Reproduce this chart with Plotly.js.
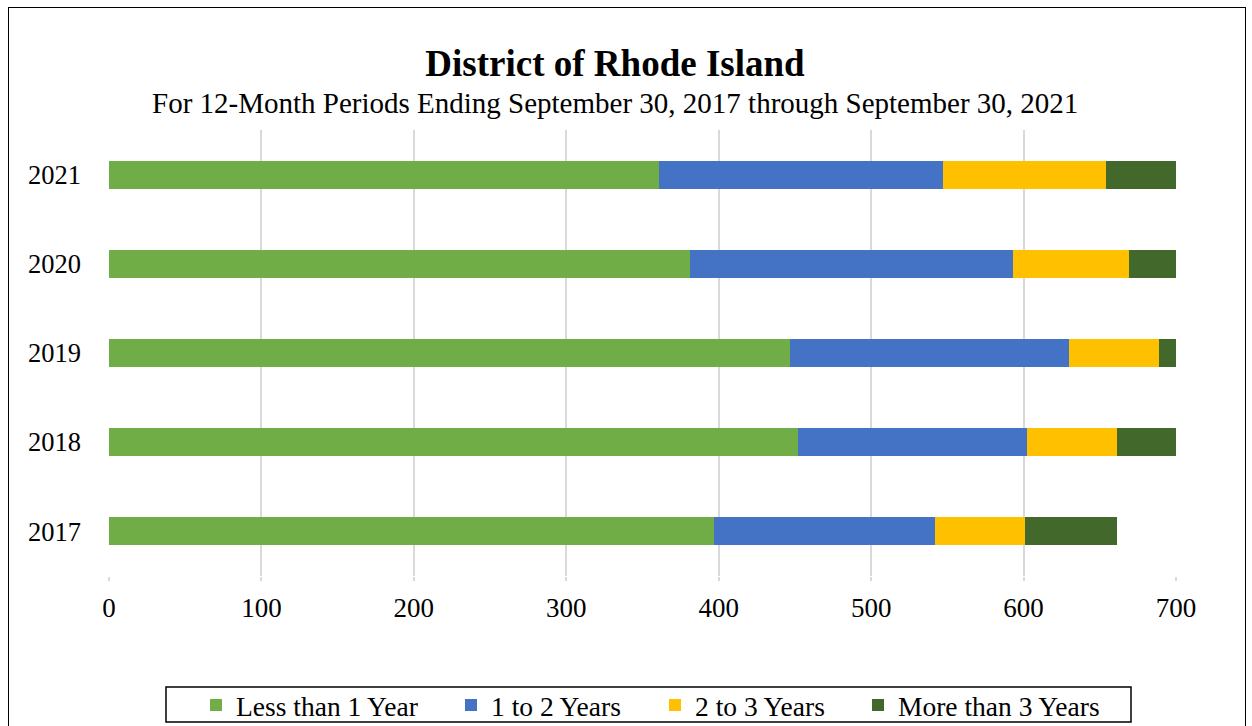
<!DOCTYPE html>
<html>
<head>
<meta charset="utf-8">
<script src="https://cdn.plot.ly/plotly-3.0.1.min.js"></script>
<style>
html,body{margin:0;padding:0;background:#fff;}
#chart{position:absolute;left:0;top:0;width:1252px;height:726px;}
#frame{position:absolute;left:8px;top:7px;width:1236px;height:740px;border:1px solid #000;pointer-events:none;}
</style>
</head>
<body>
<div id="chart"></div>
<div id="frame"></div>
<script>
const years = ['2017', '2018', '2019', '2020', '2021'];
const seriesNames = ['Less than 1 Year', '1 to 2 Years', '2 to 3 Years', 'More than 3 Years'];
const lessThan1 = [397, 452, 447, 381, 361];
const oneTo2 = [145, 150, 183, 212, 186];
const twoTo3 = [59, 59, 59, 76, 107];
const moreThan3 = [60, 40, 12, 32, 47];
const xTicks = [0, 100, 200, 300, 400, 500, 600, 700];

const colors = ['#70AD47', '#4472C4', '#FFC000', '#43682B'];
const values = [lessThan1, oneTo2, twoTo3, moreThan3];
const legendIds = ['legend', 'legend2', 'legend3', 'legend4'];
// pixel x of each legend swatch centre
const swatchX = [216, 471, 675, 878];

const L = 109, R = 76, T = 130, B = 150, W = 1252, H = 726;
const pw = W - L - R, ph = H - T - B;
const px = x => (x - L) / pw;
const py = y => (H - B - y) / ph;

const traces = values.map((v, i) => ({
  type: 'bar',
  orientation: 'h',
  name: seriesNames[i],
  legend: legendIds[i],
  y: years,
  x: v,
  marker: {color: colors[i], line: {width: 0}},
  hoverinfo: 'x+name'
}));

const font = 'Liberation Serif, Times New Roman, serif';
const layout = {
  width: W, height: H,
  barmode: 'stack',
  bargap: 0.685,
  paper_bgcolor: '#fff',
  plot_bgcolor: '#fff',
  margin: {l: L, r: R, t: T, b: B, autoexpand: false},
  font: {family: font, color: '#000', size: 24},
  xaxis: {
    range: [0, 700],
    tickvals: xTicks,
    ticktext: xTicks.map(String),
    showgrid: true, gridcolor: '#d9d9d9', gridwidth: 2,
    zeroline: false, showline: false,
    ticks: 'outside', ticklen: 4, tickcolor: '#d9d9d9', tickwidth: 2,
    ticklabelstandoff: 4,
    tickfont: {family: font, size: 27, color: '#000'},
    fixedrange: true
  },
  yaxis: {
    categoryorder: 'array', categoryarray: years,
    showgrid: false, zeroline: false, showline: false,
    ticks: '', ticklabelstandoff: 27,
    tickfont: {family: font, size: 26.5, color: '#000'},
    fixedrange: true
  },
  title: {
    text: '<b>District of Rhode Island</b>',
    font: {family: font, size: 37, color: '#000'},
    x: 615 / W, xanchor: 'center', xref: 'container',
    y: 1 - 63 / H, yanchor: 'middle', yref: 'container'
  },
  annotations: [{
    text: 'For 12-Month Periods Ending September 30, 2017 through September 30, 2021',
    xref: 'paper', yref: 'paper',
    x: px(615), y: py(103),
    xanchor: 'center', yanchor: 'middle', showarrow: false,
    font: {family: font, size: 29, color: '#000'}
  }],
  shapes: [{
    type: 'rect', xref: 'paper', yref: 'paper',
    x0: px(166), x1: px(1131), y0: py(722), y1: py(687),
    line: {color: '#000', width: 1.5}, fillcolor: 'rgba(0,0,0,0)'
  }],
  showlegend: true
};

legendIds.forEach((id, i) => {
  layout[id] = {
    orientation: 'h',
    x: px(swatchX[i] - 20), xanchor: 'left',
    y: py(705), yanchor: 'middle',
    borderwidth: 0, bgcolor: 'rgba(0,0,0,0)',
    font: {family: font, size: 27.5, color: '#000'},
    itemwidth: 30
  };
});

Plotly.newPlot('chart', traces, layout, {displayModeBar: false, staticPlot: true});
</script>
</body>
</html>
